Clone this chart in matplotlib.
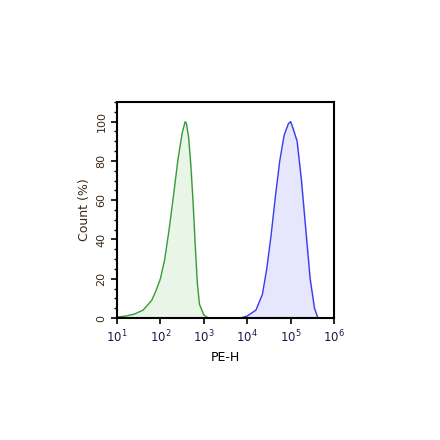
import matplotlib
matplotlib.use("Agg")
import matplotlib.pyplot as plt
import numpy as np

green_logx = [1.0,1.2,1.4,1.6,1.8,1.9,2.0,2.1,2.2,2.3,2.4,2.5,2.57,2.6,2.65,2.7,2.75,2.8,2.85,2.9,3.0,3.1]
green_y    = [0.5,1,2,4,9,14,20,30,45,62,80,94,100,99,92,78,60,38,18,7,1.5,0]
blue_logx  = [3.85,4.0,4.2,4.35,4.45,4.55,4.65,4.75,4.85,4.95,5.0,5.05,5.15,5.25,5.35,5.45,5.55,5.63]
blue_y     = [0,1,4,12,25,42,62,80,93,99,100,97,90,70,45,20,5,0]
xticks = [1,2,3,4,5,6]
yticks = [0,20,40,60,80,100]

fig = plt.figure(figsize=(4.4,4.4), dpi=100)
ax = fig.add_axes([117/440, 1-318/440, 217/440, 216/440])
gx = 10**np.array(green_logx); bx = 10**np.array(blue_logx)
ax.fill_between(gx, green_y, color='#e9f5e7')
ax.plot(gx, green_y, color='#3a9a3a', lw=1)
ax.fill_between(bx, blue_y, color='#e6e6fc')
ax.plot(bx, blue_y, color='#3a3af0', lw=1)
ax.set_xscale('log')
ax.set_xlim(10, 1e6); ax.set_ylim(0, 110)
ax.set_xticks([10**t for t in xticks])
ax.xaxis.set_minor_locator(matplotlib.ticker.NullLocator())
ax.set_xticklabels([f'$10^{{{t}}}$' for t in xticks], color='#1a1a4a', fontsize=8.5)
ax.set_yticks(yticks)
ax.set_yticklabels([str(v) for v in yticks], rotation=90, va='center', fontsize=8, color='#3a2a1a')
ax.set_yticks(np.arange(0,111,5), minor=True)
for s in ax.spines.values(): s.set_linewidth(1.5)
ax.tick_params(direction='out', width=1.2, length=4)
ax.tick_params(which='minor', length=2.5, width=1)
ax.set_xlabel('PE-H', fontsize=9)
ax.set_ylabel('Count (%)', fontsize=9, color='#3a2a1a')
fig.savefig('out.png', dpi=100)
